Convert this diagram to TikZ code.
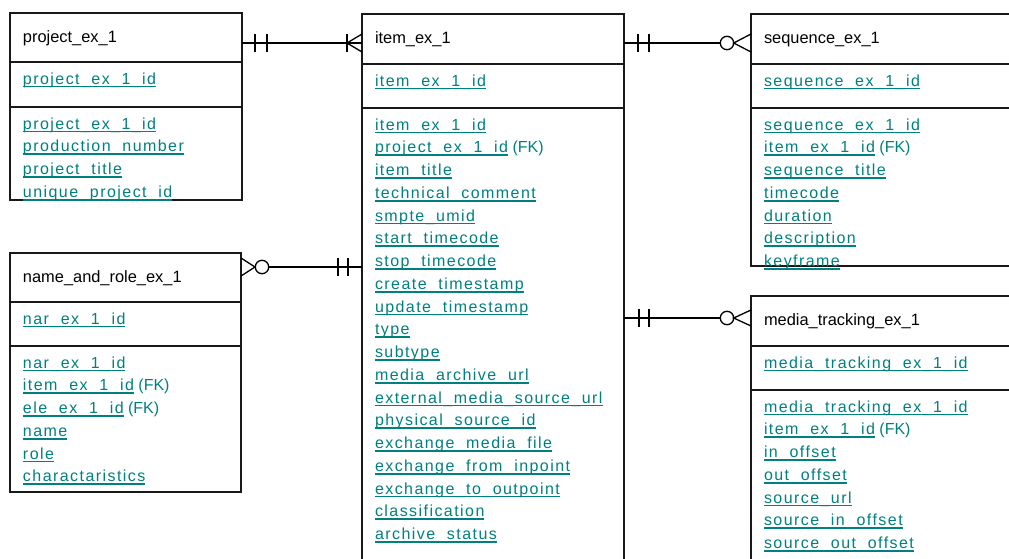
\documentclass[tikz,border=0pt]{standalone}
\usepackage{fontspec}
\setmainfont{Liberation Sans}
\newfontfamily\fldfont[LetterSpace=9]{Liberation Sans}
\definecolor{fldc}{RGB}{0,128,128}
\definecolor{linec}{RGB}{25,25,25}
\newcommand\fld[1]{\setbox0=\hbox{\fontsize{16pt}{19pt}\fldfont\color{fldc}#1}\rlap{\color{fldc}\rule[-3.3pt]{\wd0}{1.7pt}}\box0}
\newcommand\fk{{\fontsize{16pt}{19pt}\selectfont\ (FK)}}
\tikzset{
  ent/.style={draw=linec, line width=1.7pt, anchor=north west, inner sep=0pt, outer sep=0pt, fill=white},
  div/.style={draw=linec, line width=1.7pt},
  txt/.style={anchor=base west, inner sep=0pt, outer sep=0pt},
  conn/.style={draw=black, line width=1.3pt},
}
\begin{document}
\begin{tikzpicture}[x=1pt,y=-1pt,font=\fontsize{16.4pt}{19pt}\selectfont]
\clip (0,0) rectangle (1009,558);
\fill[white] (0,0) rectangle (1009,558);

% entities
\node[ent, minimum width=232pt, minimum height=187pt] (P) at (10,13) {};
\node[ent, minimum width=262pt, minimum height=570pt] (I) at (362,14) {};
\node[ent, minimum width=270pt, minimum height=252pt] (S) at (751,14) {};
\node[ent, minimum width=231pt, minimum height=239pt] (N) at (10,253) {};
\node[ent, minimum width=270pt, minimum height=300pt] (M) at (751,296) {};

% dividers
\draw[div] ([yshift=-49pt]P.north west) -- ([yshift=-49pt]P.north east);
\draw[div] ([yshift=-94pt]P.north west) -- ([yshift=-94pt]P.north east);
\draw[div] ([yshift=-50pt]I.north west) -- ([yshift=-50pt]I.north east);
\draw[div] ([yshift=-94pt]I.north west) -- ([yshift=-94pt]I.north east);
\draw[div] ([yshift=-50pt]S.north west) -- ([yshift=-50pt]S.north east);
\draw[div] ([yshift=-94pt]S.north west) -- ([yshift=-94pt]S.north east);
\draw[div] ([yshift=-49pt]N.north west) -- ([yshift=-49pt]N.north east);
\draw[div] ([yshift=-93pt]N.north west) -- ([yshift=-93pt]N.north east);
\draw[div] ([yshift=-50pt]M.north west) -- ([yshift=-50pt]M.north east);
\draw[div] ([yshift=-94pt]M.north west) -- ([yshift=-94pt]M.north east);

% project
\node[txt] (Ph) at ([xshift=13pt,yshift=-29pt]P.north west) {project\_ex\_1};
\node[txt] (Pk) at ([xshift=13pt,yshift=-71pt]P.north west) {\fld{project\_ex\_1\_id}};
\foreach \t [count=\i from 0] in {\fld{project\_ex\_1\_id},\fld{production\_number},\fld{project\_title},\fld{unique\_project\_id}}
  \node[txt] (Pb\i) at ([xshift=13pt,yshift={-(116+22.75*\i)*1pt}]P.north west) {\t};

% item
\node[txt] (Ih) at ([xshift=13pt,yshift=-29pt]I.north west) {item\_ex\_1};
\node[txt] (Ik) at ([xshift=13pt,yshift=-72pt]I.north west) {\fld{item\_ex\_1\_id}};
\foreach \t [count=\i from 0] in {\fld{item\_ex\_1\_id},\fld{project\_ex\_1\_id}\fk,\fld{item\_title},\fld{technical\_comment},\fld{smpte\_umid},\fld{start\_timecode},\fld{stop\_timecode},\fld{create\_timestamp},\fld{update\_timestamp},\fld{type},\fld{subtype},\fld{media\_archive\_url},\fld{external\_media\_source\_url},\fld{physical\_source\_id},\fld{exchange\_media\_file},\fld{exchange\_from\_inpoint},\fld{exchange\_to\_outpoint},\fld{classification},\fld{archive\_status}}
  \node[txt] (Ib\i) at ([xshift=13pt,yshift={-(116+22.75*\i)*1pt}]I.north west) {\t};

% sequence
\node[txt] (Sh) at ([xshift=13pt,yshift=-29pt]S.north west) {sequence\_ex\_1};
\node[txt] (Sk) at ([xshift=13pt,yshift=-72pt]S.north west) {\fld{sequence\_ex\_1\_id}};
\foreach \t [count=\i from 0] in {\fld{sequence\_ex\_1\_id},\fld{item\_ex\_1\_id}\fk,\fld{sequence\_title},\fld{timecode},\fld{duration},\fld{description},\fld{keyframe}}
  \node[txt] (Sb\i) at ([xshift=13pt,yshift={-(116+22.75*\i)*1pt}]S.north west) {\t};

% name and role
\node[txt] (Nh) at ([xshift=13pt,yshift=-29pt]N.north west) {name\_and\_role\_ex\_1};
\node[txt] (Nk) at ([xshift=13pt,yshift=-71pt]N.north west) {\fld{nar\_ex\_1\_id}};
\foreach \t [count=\i from 0] in {\fld{nar\_ex\_1\_id},\fld{item\_ex\_1\_id}\fk,\fld{ele\_ex\_1\_id}\fk,\fld{name},\fld{role},\fld{charactaristics}}
  \node[txt] (Nb\i) at ([xshift=13pt,yshift={-(115+22.75*\i)*1pt}]N.north west) {\t};

% media tracking
\node[txt] (Mh) at ([xshift=13pt,yshift=-29pt]M.north west) {media\_tracking\_ex\_1};
\node[txt] (Mk) at ([xshift=13pt,yshift=-72pt]M.north west) {\fld{media\_tracking\_ex\_1\_id}};
\foreach \t [count=\i from 0] in {\fld{media\_tracking\_ex\_1\_id},\fld{item\_ex\_1\_id}\fk,\fld{in\_offset},\fld{out\_offset},\fld{source\_url},\fld{source\_in\_offset},\fld{source\_out\_offset}}
  \node[txt] (Mb\i) at ([xshift=13pt,yshift={-(116+22.75*\i)*1pt}]M.north west) {\t};

% connector project -- item (one and only one -- one or many)
\coordinate (c1a) at ([yshift=-30pt]P.north east);
\coordinate (c1b) at ([yshift=-29pt]I.north west);
\draw[conn] (c1a) -- (c1b);
\draw[conn] ([xshift=13pt,yshift=9pt]c1a) -- ([xshift=13pt,yshift=-9pt]c1a);
\draw[conn] ([xshift=25pt,yshift=9pt]c1a) -- ([xshift=25pt,yshift=-9pt]c1a);
\draw[conn] ([yshift=9pt]c1b) -- ([xshift=-15pt]c1b) -- ([yshift=-9pt]c1b);
\draw[conn] ([xshift=-15pt,yshift=9pt]c1b) -- ([xshift=-15pt,yshift=-9pt]c1b);

% connector item -- sequence (one and only one -- zero or many)
\coordinate (c2a) at ([yshift=-29pt]I.north east);
\coordinate (c2b) at ([yshift=-29pt]S.north west);
\draw[conn] (c2a) -- ([xshift=-31pt]c2b);
\draw[conn] ([xshift=14pt,yshift=9pt]c2a) -- ([xshift=14pt,yshift=-9pt]c2a);
\draw[conn] ([xshift=25pt,yshift=9pt]c2a) -- ([xshift=25pt,yshift=-9pt]c2a);
\draw[conn] ([xshift=-24pt]c2b) circle (6.7pt);
\draw[conn] ([yshift=9pt]c2b) -- ([xshift=-17.3pt]c2b) -- ([yshift=-9pt]c2b);

% connector name_and_role -- item (zero or many -- one and only one)
\coordinate (c3a) at ([yshift=-14pt]N.north east);
\coordinate (c3b) at ([yshift=-253pt]I.north west);
\draw[conn] ([xshift=28pt]c3a) -- (c3b);
\draw[conn] ([yshift=9pt]c3a) -- ([xshift=14pt]c3a) -- ([yshift=-9pt]c3a);
\draw[conn] ([xshift=21pt]c3a) circle (6.7pt);
\draw[conn] ([xshift=-24pt,yshift=9pt]c3b) -- ([xshift=-24pt,yshift=-9pt]c3b);
\draw[conn] ([xshift=-14pt,yshift=9pt]c3b) -- ([xshift=-14pt,yshift=-9pt]c3b);

% connector item -- media_tracking (one and only one -- zero or many)
\coordinate (c4a) at ([yshift=-304pt]I.north east);
\coordinate (c4b) at ([yshift=-22pt]M.north west);
\draw[conn] (c4a) -- ([xshift=-31pt]c4b);
\draw[conn] ([xshift=15pt,yshift=9pt]c4a) -- ([xshift=15pt,yshift=-9pt]c4a);
\draw[conn] ([xshift=25pt,yshift=9pt]c4a) -- ([xshift=25pt,yshift=-9pt]c4a);
\draw[conn] ([xshift=-24pt]c4b) circle (6.7pt);
\draw[conn] ([yshift=8pt]c4b) -- ([xshift=-17.3pt]c4b) -- ([yshift=-8pt]c4b);
\end{tikzpicture}
\end{document}
